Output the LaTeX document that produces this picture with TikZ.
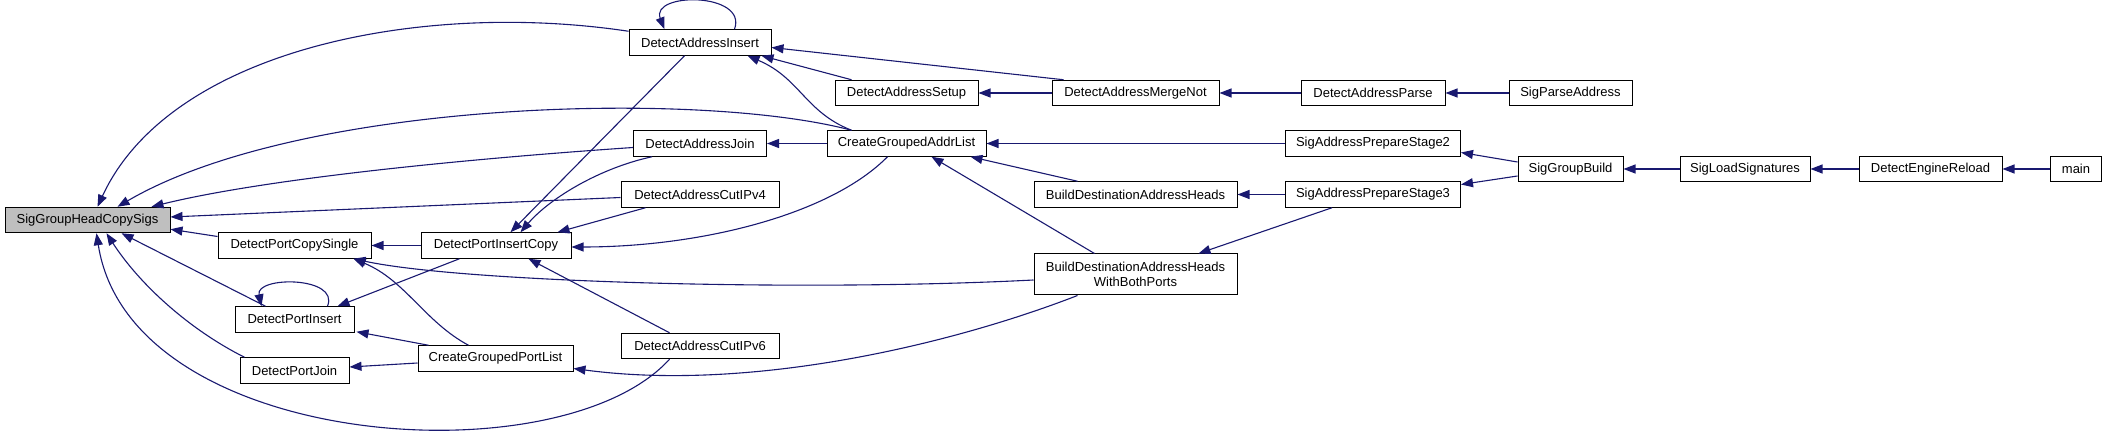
\documentclass[tikz,border=0pt]{standalone}
\usepackage{fontspec}
\setmainfont{Liberation Sans}
\usetikzlibrary{arrows.meta,calc}
\definecolor{edgecol}{RGB}{25,25,112}
\definecolor{rootfill}{RGB}{191,191,191}
\tikzset{
  fn/.style={draw=black, line width=1pt, fill=white, rectangle, inner sep=0pt,
    minimum height=25.5pt, font=\fontsize{13}{15}\selectfont, align=center},
  root/.style={fn, fill=rootfill},
  edge/.style={draw=edgecol, line width=1.1pt, -{Triangle[length=12pt,width=9pt]}}
}
\begin{document}
\begin{tikzpicture}[x=1pt,y=-1pt]
\useasboundingbox (0,0) rectangle (2107,435);
% nodes
\node[root, minimum width=165pt] (sghcs) at (87.5,220) {SigGroupHeadCopySigs};
\node[fn, minimum width=153pt] (dpcs) at (294.5,245.5) {DetectPortCopySingle};
\node[fn, minimum width=119pt] (dpi) at (294.5,319.5) {DetectPortInsert};
\node[fn, minimum width=109pt] (dpj) at (294.5,370.5) {DetectPortJoin};
\node[fn, minimum width=150pt] (dpic) at (496,245.5) {DetectPortInsertCopy};
\node[fn, minimum width=155pt] (cgpl) at (495.5,358.5) {CreateGroupedPortList};
\node[fn, minimum width=142pt] (dai) at (700,42.5) {DetectAddressInsert};
\node[fn, minimum width=143pt] (das) at (906.5,93) {DetectAddressSetup};
\node[fn, minimum width=167pt] (damn) at (1135.5,93) {DetectAddressMergeNot};
\node[fn, minimum width=133pt] (daj) at (700,143.5) {DetectAddressJoin};
\node[fn, minimum width=159pt] (cgal) at (906.5,143.5) {CreateGroupedAddrList};
\node[fn, minimum width=158pt] (dacv4) at (700,194.5) {DetectAddressCutIPv4};
\node[fn, minimum width=203pt] (bdah) at (1135.5,194.5) {BuildDestinationAddressHeads};
\node[fn, minimum width=203pt, minimum height=41pt] (bdahwbp) at (1135.5,274.5) {BuildDestinationAddressHeads\\WithBothPorts};
\node[fn, minimum width=158pt] (dacv6) at (700,346) {DetectAddressCutIPv6};
\node[fn, minimum width=144pt] (dap) at (1373,93) {DetectAddressParse};
\node[fn, minimum width=123pt] (spa) at (1570.5,93) {SigParseAddress};
\node[fn, minimum width=175pt] (saps2) at (1373,143.5) {SigAddressPrepareStage2};
\node[fn, minimum width=175pt] (saps3) at (1373,194.5) {SigAddressPrepareStage3};
\node[fn, minimum width=105pt] (sgb) at (1570.5,169) {SigGroupBuild};
\node[fn, minimum width=130pt] (sls) at (1745,169) {SigLoadSignatures};
\node[fn, minimum width=143pt] (der) at (1930.5,169) {DetectEngineReload};
\node[fn, minimum width=51pt] (main) at (2076,169) {main};
% edges into SigGroupHeadCopySigs
\draw[edge] ($(dai.north west)+(0,2)$) .. controls (420,0) and (170,50) .. ($(sghcs.north west)+(93,0)$);
\draw[edge] ($(cgal.north west)+(25,0)$) .. controls (700,90) and (300,100) .. ($(sghcs.north west)+(113,0)$);
\draw[edge] ($(daj.west)+(0,4)$) .. controls (450,160) and (260,180) .. ($(sghcs.north west)+(147,0)$);
\draw[edge] ($(dacv4.west)+(0,3)$) -- ($(sghcs.east)+(0,-3)$);
\draw[edge] ($(dpcs.west)+(0,-9)$) -- ($(sghcs.south east)+(0,-4)$);
\draw[edge] ($(dpi.north west)+(31,0)$) -- ($(sghcs.south west)+(117,0)$);
\draw[edge] ($(dpj.north west)+(5,0)$) .. controls (190,330) and (140,285) .. ($(sghcs.south west)+(102,0)$);
\draw[edge] ($(dacv6.south west)+(49,0)$) .. controls (560,480) and (130,450) .. ($(sghcs.south west)+(92,0)$);
% DetectAddressInsert
\draw[edge] ($(dai.north west)+(106,0)$) .. controls (748,-8) and (650,-8) .. ($(dai.north west)+(36,0)$);
\draw[edge] ($(das.north west)+(17,0)$) -- ($(dai.south east)+(-10,0)$);
\draw[edge] ($(damn.north west)+(12,0)$) -- ($(dai.east)+(0,5)$);
\draw[edge] ($(cgal.north west)+(25,0)$) .. controls (805,112) and (800,78) .. ($(dai.south east)+(-24,0)$);
% DetectPortInsertCopy
\draw[edge] ($(dai.south west)+(56,0)$) -- ($(dpic.north west)+(90,0)$);
\draw[edge] ($(daj.south west)+(19,0)$) .. controls (600,168) and (550,198) .. ($(dpic.north west)+(100,0)$);
\draw[edge] ($(dacv4.south west)+(25,0)$) -- ($(dpic.north east)+(-14,0)$);
\draw[edge] ($(cgal.south west)+(61,0)$) .. controls (830,215) and (700,247) .. ($(dpic.east)+(0,1.5)$);
\draw[edge] ($(dacv6.north west)+(49,0)$) -- ($(dpic.south west)+(108,0)$);
% DetectPortCopySingle
\draw[edge] (dpic) -- (dpcs);
\draw[edge] ($(bdahwbp.west)+(0,5.5)$) .. controls (800,292) and (460,282) .. ($(dpcs.south east)+(-18,0)$);
\draw[edge] ($(cgpl.north west)+(51,0)$) .. controls (425,322) and (405,280) .. ($(dpcs.south east)+(-18,0)$);
% DetectPortInsert
\draw[edge] ($(dpi.north west)+(93,0)$) .. controls (340,276) and (255,276) .. ($(dpi.north west)+(27,0)$);
\draw[edge] ($(dpic.south west)+(39,0)$) -- ($(dpi.north east)+(-17,0)$);
\draw[edge] ($(cgpl.north west)+(11,0)$) -- ($(dpi.south east)+(2,-1)$);
% DetectPortJoin
\draw[edge] ($(cgpl.west)+(0,4.5)$) -- ($(dpj.east)+(0,-3.5)$);
% CreateGroupedPortList
\draw[edge] ($(bdahwbp.south west)+(44,0)$) .. controls (950,345) and (750,392) .. ($(cgpl.east)+(0,10)$);
% right part
\draw[edge] (damn) -- (das);
\draw[edge] (dap) -- (damn);
\draw[edge] (spa) -- (dap);
\draw[edge] (cgal) -- (daj);
\draw[edge] (saps2) -- (cgal);
\draw[edge] ($(bdah.north west)+(44,0)$) -- ($(cgal.south east)+(-16,0)$);
\draw[edge] ($(bdahwbp.north west)+(61,0)$) -- ($(cgal.south west)+(105,0)$);
\draw[edge] (saps3) -- (bdah);
\draw[edge] ($(saps3.south west)+(47,0)$) -- ($(bdahwbp.north east)+(-39,0)$);
\draw[edge] ($(sgb.west)+(0,-7)$) -- ($(saps2.east)+(0,9)$);
\draw[edge] ($(sgb.west)+(0,7)$) -- ($(saps3.east)+(0,-10)$);
\draw[edge] (sls) -- (sgb);
\draw[edge] (der) -- (sls);
\draw[edge] (main) -- (der);
\end{tikzpicture}
\end{document}
